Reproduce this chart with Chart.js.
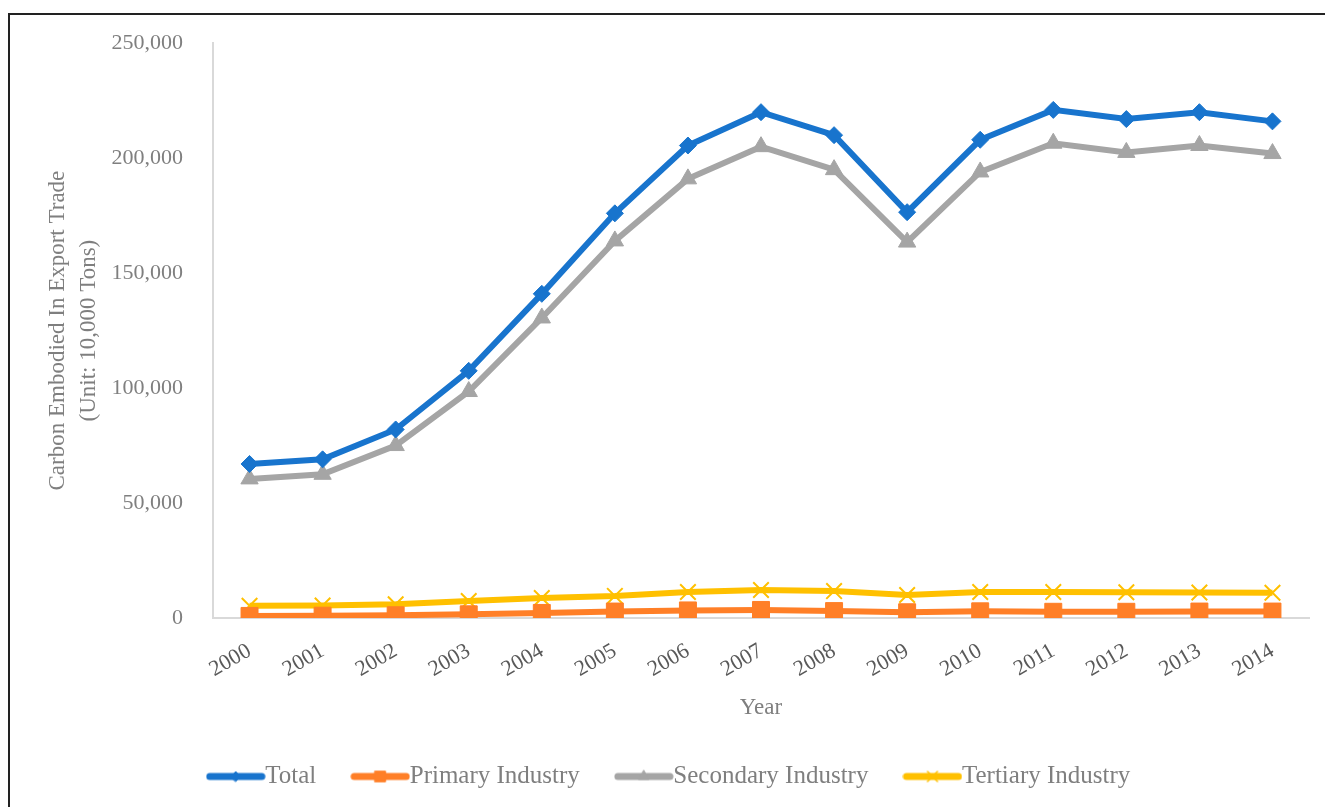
<!DOCTYPE html>
<html>
<head>
<meta charset="utf-8">
<script src="https://cdn.jsdelivr.net/npm/chart.js"></script>
<style>
  body { margin: 0; background: #fff; overflow: hidden; }
  .wrap { position: relative; width: 1325px; height: 807px; }
  .frame { position: absolute; left: 8px; top: 13px; width: 1400px; height: 900px; border: 2px solid #222; }
  canvas { position: absolute; left: 0; top: 0; }
</style>
</head>
<body>
<div class="wrap">
  <div class="frame"></div>
  <canvas id="carbon" width="1325" height="807"></canvas>
</div>
<script>
const years = ["2000", "2001", "2002", "2003", "2004", "2005", "2006", "2007", "2008", "2009", "2010", "2011", "2012", "2013", "2014"];
const total = [67000, 69000, 82000, 107500, 141000, 176000, 205500, 220000, 210000, 176500, 208000, 221000, 217000, 220000, 216000];
const primary = [900, 1000, 1200, 1600, 2200, 2800, 3300, 3500, 3000, 2500, 2900, 2700, 2700, 2800, 2800];
const secondary = [60500, 62500, 75000, 98500, 130500, 164000, 191000, 205000, 195000, 163500, 194000, 206500, 202500, 205500, 202000];
const tertiary = [5300, 5400, 6000, 7400, 8700, 9600, 11300, 12200, 11700, 10000, 11300, 11300, 11200, 11100, 11000];
const yTicks = [0, 50000, 100000, 150000, 200000, 250000];

const serif = "'Liberation Serif', 'DejaVu Serif', serif";

// legend sample: short thick line with a small marker in the middle
function legendIcon(color, style, r, bw) {
  const c = document.createElement("canvas");
  c.width = 60; c.height = 18;
  const ctx = c.getContext("2d");
  ctx.strokeStyle = color;
  ctx.lineWidth = 7;
  ctx.lineCap = "round";
  ctx.beginPath();
  ctx.moveTo(4, 9); ctx.lineTo(56, 9);
  ctx.stroke();
  ctx.fillStyle = color;
  ctx.lineWidth = bw;
  Chart.helpers.drawPoint(ctx, { pointStyle: style, radius: r, rotation: 0, borderWidth: bw }, 30, 9);
  return c;
}

function series(label, data, color, style, r, bw) {
  return {
    label: label,
    data: data,
    borderColor: color,
    backgroundColor: color,
    borderWidth: 6,
    tension: 0,
    pointStyle: style,
    pointRadius: r,
    pointHoverRadius: r,
    pointBorderWidth: bw,
    pointBackgroundColor: color,
    pointBorderColor: color
  };
}

const icons = [
  legendIcon("#1874CD", "rectRot", 5, 1),
  legendIcon("#FF7F27", "rect", 7.5, 1),
  legendIcon("#A5A5A5", "triangle", 6, 1),
  legendIcon("#FFC000", "crossRot", 7, 1.5)
];

new Chart(document.getElementById("carbon"), {
  type: "line",
  data: {
    labels: years,
    datasets: [
      series("Total", total, "#1874CD", "rectRot", 8.5, 1),
      series("Primary Industry", primary, "#FF7F27", "rect", 12, 1),
      series("Secondary Industry", secondary, "#A5A5A5", "triangle", 10, 1),
      series("Tertiary Industry", tertiary, "#FFC000", "crossRot", 11, 2)
    ]
  },
  options: {
    responsive: false,
    animation: false,
    layout: { padding: { left: 40, top: 43, right: 16, bottom: 8 } },
    plugins: {
      tooltip: { enabled: false },
      legend: {
        position: "bottom",
        labels: {
          usePointStyle: true,
          pointStyleWidth: 34,
          padding: 47,
          color: "#7f7f7f",
          font: { family: serif, size: 25 },
          generateLabels: function(chart) {
            return chart.data.datasets.map((ds, i) => ({
              text: ds.label,
              pointStyle: icons[i],
              fontColor: "#7f7f7f",
              fillStyle: "transparent",
              strokeStyle: "transparent",
              lineWidth: 0,
              hidden: false,
              datasetIndex: i
            }));
          }
        }
      }
    },
    scales: {
      x: {
        offset: true,
        grid: { display: false, drawTicks: false },
        border: { color: "#d9d9d9", width: 2 },
        ticks: {
          color: "#595959",
          font: { family: serif, size: 22 },
          minRotation: 30,
          maxRotation: 30,
          padding: 20
        },
        title: {
          display: true,
          text: "Year",
          color: "#7f7f7f",
          font: { family: serif, size: 23 },
          padding: { top: 0, bottom: -5 }
        },
        afterFit: function(s) { s.height = 99; }
      },
      y: {
        min: 0,
        max: 250000,
        afterBuildTicks: function(s) { s.ticks = yTicks.map(v => ({ value: v })); },
        grid: { display: false, drawTicks: false },
        border: { color: "#d9d9d9", width: 2 },
        ticks: {
          color: "#7f7f7f",
          font: { family: serif, size: 22 },
          padding: 30,
          callback: v => v.toLocaleString("en-US")
        },
        title: {
          display: true,
          text: ["Carbon Embodied In Export Trade", "(Unit: 10,000 Tons)"],
          color: "#7f7f7f",
          font: { family: serif, size: 23, lineHeight: 1.35 },
          padding: { top: 2, bottom: 0 }
        },
        afterFit: function(s) { s.width = 173; }
      }
    }
  }
});
</script>
</body>
</html>
